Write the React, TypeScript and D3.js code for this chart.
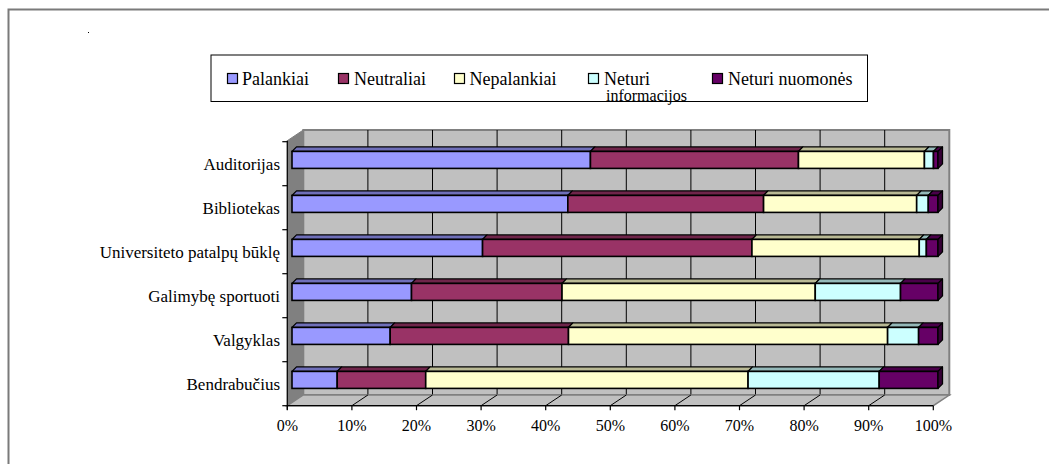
import React from "react";
import * as d3 from "d3";

const categories = [
  "Auditorijas",
  "Bibliotekas",
  "Universiteto patalpų būklę",
  "Galimybę sportuoti",
  "Valgyklas",
  "Bendrabučius",
];
const seriesNames = ["Palankiai", "Neutraliai", "Nepalankiai", "Neturi informacijos", "Neturi nuomonės"];
const seriesColors = ["#9999FF", "#993366", "#FFFFCC", "#CCFFFF", "#660066"];
const palankiai = [46.2, 42.7, 29.5, 18.5, 15.2, 7.0];
const neutraliai = [32.2, 30.3, 41.7, 23.3, 27.6, 13.7];
const nepalankiai = [19.5, 23.7, 25.9, 39.2, 49.4, 49.9];
const neturiInfo = [1.4, 1.8, 1.1, 13.2, 4.8, 20.3];
const neturiNuomones = [0.7, 1.5, 1.8, 5.8, 3.0, 9.1];
const tickValues = [0, 0.1, 0.2, 0.3, 0.4, 0.5, 0.6, 0.7, 0.8, 0.9, 1];

const seriesValues = [palankiai, neutraliai, nepalankiai, neturiInfo, neturiNuomones];
const keys = ["p", "n", "np", "ni", "nn"];

const FONT = "Liberation Serif, Tinos, Times New Roman, Times, DejaVu Serif, serif";
const tStyle = { fontFamily: FONT };

export default function App() {
  const rows = categories.map((c, i) => {
    const r: any = { cat: c };
    keys.forEach((k, j) => (r[k] = seriesValues[j][i]));
    return r;
  });
  const stack = d3.stack().keys(keys).offset(d3.stackOffsetExpand);
  const stacked = stack(rows);

  // geometry
  const frontX0 = 287.3, frontX1 = 933.3;
  const depthX = 16, depthY = -10.7;
  const floorY = 405.7;
  const wallTop = 130;
  const xFront = d3.scaleLinear().domain([0, 1]).range([frontX0, frontX1]);
  const xBack = d3.scaleLinear().domain([0, 1]).range([frontX0 + depthX, frontX1 + depthX]);
  const xBar = d3.scaleLinear().domain([0, 1]).range([292, 938]);
  const yBand = d3.scaleBand().domain(categories).range([141.7, floorY]);
  const barOffTop = 9.7, barH = 17, bd = 4.5;

  const backY1 = floorY + depthY;

  const poly = (pts: number[][]) => pts.map((p) => p.join(",")).join(" ");

  const legendItems = [
    { sx: 227, tx: 242 },
    { sx: 338, tx: 354 },
    { sx: 454, tx: 469.5 },
    { sx: 588, tx: 604 },
    { sx: 712, tx: 728 },
  ];

  return (
    <svg
      width={1049}
      height={464}
      style={{ position: "absolute", left: 0, top: 0, background: "#fff" }}
    >
      {/* outer frame */}
      <rect x={8.5} y={9.5} width={1100} height={500} fill="#fff" stroke="#7a7a7a" strokeWidth={2} />
      <rect x={88} y={32} width={1} height={1} fill="#000" />

      {/* legend */}
      <rect x={211} y={55} width={656.5} height={46.5} fill="#fff" stroke="#000" strokeWidth={1} />
      {seriesNames.map((name, i) => (
        <g key={name}>
          <rect
            x={legendItems[i].sx + 0.5}
            y={73.5}
            width={10}
            height={10}
            fill={seriesColors[i]}
            stroke="#000"
            strokeWidth={1.2}
          />
          {name === "Neturi informacijos" ? (
            <>
              <text x={legendItems[i].tx} y={85} fontSize={18} style={tStyle}>Neturi</text>
              <text x={legendItems[i].tx + 2} y={101} fontSize={16} style={tStyle}>informacijos</text>
            </>
          ) : (
            <text x={legendItems[i].tx} y={85} fontSize={18} style={tStyle}>{name}</text>
          )}
        </g>
      ))}

      {/* back wall */}
      <rect
        x={xBack(0)}
        y={wallTop}
        width={xBack(1) - xBack(0)}
        height={backY1 - wallTop}
        fill="#C0C0C0"
        stroke="#808080"
        strokeWidth={2}
      />
      {tickValues.slice(1, -1).map((t) => (
        <line key={"g" + t} x1={xBack(t)} x2={xBack(t)} y1={wallTop} y2={backY1} stroke="#000" strokeWidth={1} />
      ))}
      {/* left wall */}
      <polygon
        points={poly([
          [frontX0, wallTop - depthY],
          [frontX0 + depthX, wallTop],
          [frontX0 + depthX, backY1],
          [frontX0, floorY],
        ])}
        fill="#808080"
        stroke="#808080"
        strokeWidth={1}
      />
      {/* floor */}
      <polygon
        points={poly([
          [xFront(0), floorY],
          [xFront(1), floorY],
          [xBack(1), backY1],
          [xBack(0), backY1],
        ])}
        fill="#C0C0C0"
        stroke="#808080"
        strokeWidth={1.5}
      />
      {tickValues.slice(1, -1).map((t) => (
        <line key={"f" + t} x1={xFront(t)} y1={floorY} x2={xBack(t)} y2={backY1} stroke="#000" strokeWidth={1} />
      ))}

      {/* bars */}
      {categories.map((c, ci) => {
        const y0 = (yBand(c) as number) + barOffTop;
        return (
          <g key={c}>
            {stacked.map((s, si) => {
              const x0 = xBar(s[ci][0]);
              const x1 = xBar(s[ci][1]);
              const col = seriesColors[si];
              const top = d3.color(col)!.darker(0.9).formatHex();
              const side = d3.color(col)!.darker(1.8).formatHex();
              return (
                <g key={si}>
                  <polygon
                    points={poly([
                      [x0, y0],
                      [x0 + bd, y0 - bd],
                      [x1 + bd, y0 - bd],
                      [x1, y0],
                    ])}
                    fill={top}
                    stroke="#000"
                    strokeWidth={1.3}
                    strokeLinejoin="round"
                  />
                  <rect x={x0} y={y0} width={x1 - x0} height={barH} fill={col} stroke="#000" strokeWidth={1.6} />
                  {si === stacked.length - 1 && (
                    <polygon
                      points={poly([
                        [x1, y0],
                        [x1 + bd, y0 - bd],
                        [x1 + bd, y0 + barH - bd],
                        [x1, y0 + barH],
                      ])}
                      fill={side}
                      stroke="#000"
                      strokeWidth={1.3}
                      strokeLinejoin="round"
                    />
                  )}
                </g>
              );
            })}
          </g>
        );
      })}

      {/* y axis */}
      <line x1={frontX0} x2={frontX0} y1={wallTop - depthY} y2={floorY + 4} stroke="#000" strokeWidth={1.2} />
      {[...categories.map((c) => yBand(c) as number), floorY].map((y, i) => (
        <line key={"yt" + i} x1={frontX0 - 5} x2={frontX0} y1={y} y2={y} stroke="#000" strokeWidth={1.2} />
      ))}
      {categories.map((c) => (
        <text
          key={"yl" + c}
          x={280}
          y={(yBand(c) as number) + yBand.bandwidth() / 2 + 6}
          textAnchor="end"
          fontSize={17}
          style={tStyle}
        >
          {c}
        </text>
      ))}

      {/* x axis */}
      <line x1={xFront(0)} x2={xFront(1)} y1={floorY} y2={floorY} stroke="#000" strokeWidth={1.2} />
      {tickValues.map((t) => (
        <g key={"xt" + t}>
          <line x1={xFront(t)} x2={xFront(t)} y1={floorY} y2={floorY + 4.5} stroke="#000" strokeWidth={1.2} />
          <text x={xFront(t)} y={431} textAnchor="middle" fontSize={16} style={tStyle}>
            {d3.format(".0%")(t)}
          </text>
        </g>
      ))}
    </svg>
  );
}
